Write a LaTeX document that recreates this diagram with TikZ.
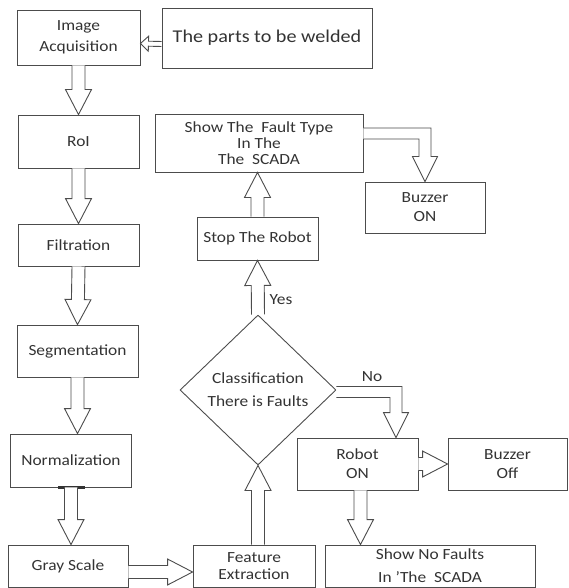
\documentclass[tikz,border=0pt]{standalone}
\usepackage{fontspec}
\setmainfont{Carlito}[FakeStretch=1.12]
\usetikzlibrary{shapes.geometric,calc}
\begin{document}
\begin{tikzpicture}[x=1pt,y=-1pt,
  box/.style={draw=black!70,line width=0.9pt,inner sep=0pt,align=center,text=black!80,font=\fontsize{15.5}{17}\selectfont},
  lbl/.style={text=black!80,font=\fontsize{15.5}{17}\selectfont},
  hollow/.style n args={3}{draw=black!70,line width=0.9pt,fill=white,line join=miter,
    to path={let \p1=(\tikztostart),\p2=(\tikztotarget),
      \n1={veclen(\x2-\x1,\y2-\y1)},\n2={(\x2-\x1)/\n1},\n3={(\y2-\y1)/\n1},\n4={\n1-#3} in
      ({\x1-(\n3)*#1pt},{\y1+(\n2)*#1pt})
      -- ({\x1+(\n2)*\n4*1pt-(\n3)*#1pt},{\y1+(\n3)*\n4*1pt+(\n2)*#1pt})
      -- ({\x1+(\n2)*\n4*1pt-(\n3)*#2pt},{\y1+(\n3)*\n4*1pt+(\n2)*#2pt})
      -- (\p2)
      -- ({\x1+(\n2)*\n4*1pt+(\n3)*#2pt},{\y1+(\n3)*\n4*1pt-(\n2)*#2pt})
      -- ({\x1+(\n2)*\n4*1pt+(\n3)*#1pt},{\y1+(\n3)*\n4*1pt-(\n2)*#1pt})
      -- ({\x1+(\n3)*#1pt},{\y1-(\n2)*#1pt})}},
  fat/.style={hollow={6.5}{13}{25}},
  thinfat/.style={hollow={2.5}{7.5}{8}},
  fatbend/.style={draw=black!70,line width=0.9pt,fill=white,line join=miter,
    to path={let \p1=(\tikztostart),\p2=(\tikztotarget) in
      (\x1,\y1+5.5pt) -- (\x2+6pt,\y1+5.5pt) -- (\x2+6pt,\y2+25pt) -- (\x2+12.5pt,\y2+25pt) -- (\p2)
      -- (\x2-12.5pt,\y2+25pt) -- (\x2-6pt,\y2+25pt) -- (\x2-6pt,\y1-5.5pt) -- (\x1,\y1-5.5pt)}}]
\useasboundingbox (0,0) rectangle (568,588);

% left column
\node[box,minimum width=123pt,minimum height=55pt] (acq) at (78.5,37.5) {Image\\[4pt]Acquisition};
\node[box,minimum width=210pt,minimum height=60pt,font=\fontsize{18}{20}\selectfont] (parts) at (267,38) {The parts to be welded};
\node[box,minimum width=121pt,minimum height=53pt] (roi) at (78.5,141.5) {RoI};
\node[box,minimum width=121pt,minimum height=42pt] (filt) at (78.5,245) {Filtration};
\node[box,minimum width=121pt,minimum height=52pt] (seg) at (77.5,351) {Segmentation};
\node[box,minimum width=121pt,minimum height=53pt] (norm) at (71,460.5) {Normalization};
\node[box,minimum width=120pt,minimum height=42pt] (gray) at (68,566) {Gray Scale};

% right part
\node[box,minimum width=122pt,minimum height=42pt] (feat) at (254,566) {Feature\\Extraction};
\node[box,diamond,minimum width=156pt,minimum height=150pt] (dia) at (258,390) {Classification\\[6pt]There is Faults};
\node[box,minimum width=121pt,minimum height=43pt] (stop) at (257.5,238.5) {Stop The Robot};
\node[box,minimum width=208pt,minimum height=58pt,font=\fontsize{15.5}{16}\selectfont] (fault) at (259,143) {Show The~ Fault Type\\In The\\The~ SCADA};
\node[box,minimum width=120pt,minimum height=51pt] (buzon) at (425,207.5) {Buzzer\\[2pt]ON};
\node[box,minimum width=121pt,minimum height=52pt] (robot) at (357.5,464) {Robot\\[2pt]ON};
\node[box,minimum width=119pt,minimum height=52pt] (buzoff) at (507.5,464) {Buzzer\\[2pt]Off};
\node[box,minimum width=210pt,minimum height=42pt] (nofault) at (430,566) {Show No Faults\\[6pt]In 'The~ SCADA};
\node[lbl] (yes) at (281,300) {Yes};
\node[lbl] (no) at (372,377) {No};

% arrows
\draw[thinfat] ([yshift=-6pt]parts.west) to ([yshift=-6pt]acq.east);
\draw[fat] (acq.south) to (roi.north);
\draw[fat] (roi.south) to (filt.north);
\draw[fat] (filt.south) to (seg.north);
\draw[fat] (seg.south) to (seg.south |- norm.north);
\draw[line width=2.5pt,black!80] ([xshift=-13pt]norm.south) -- ([xshift=14pt]norm.south);
\draw[fat] (norm.south) to (norm.south |- gray.north);
\draw[fat] ([yshift=-6pt]gray.east) to ([yshift=-6pt]feat.west);
\draw[fat] (dia.south |- feat.north) to (dia.south);
\draw[fat] (dia.north) to (stop.south);
\draw[fat] (stop.north) to (stop.north |- fault.south);
\draw[fatbend] ([yshift=9.5pt]fault.east) to (buzon.north);
\draw[fatbend] ([yshift=-2pt]dia.east) to ([xshift=38.5pt]robot.north);
\draw[fat] (robot.east) to (buzoff.west);
\draw[fat] ([xshift=3pt]robot.south) to ([xshift=3pt]robot.south |- nofault.north);

\end{tikzpicture}
\end{document}
